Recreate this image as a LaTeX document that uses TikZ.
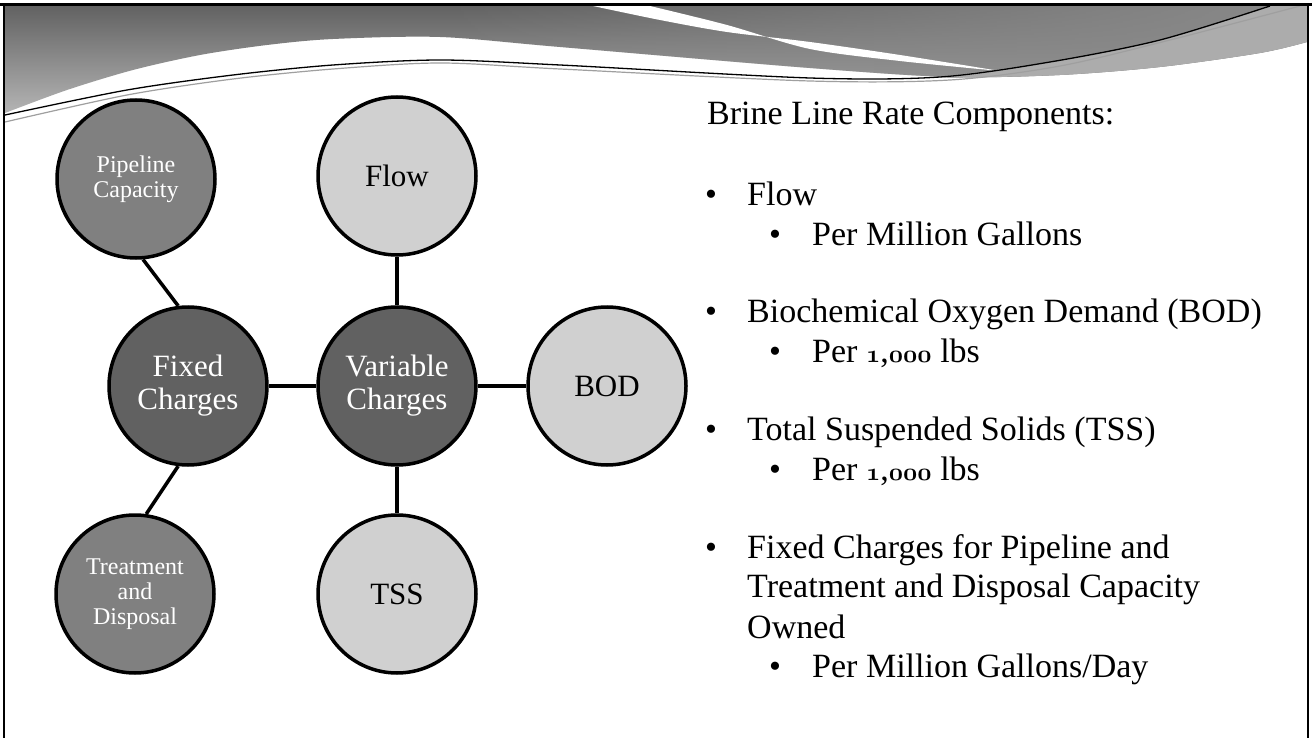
\documentclass[tikz,border=0pt]{standalone}
\usepackage{fontspec}
\setmainfont{Liberation Serif}
\usepackage{tikz}
\usetikzlibrary{fadings}
\definecolor{cdark}{HTML}{616161}
\definecolor{cmid}{HTML}{808080}
\definecolor{clight}{HTML}{D0D0D0}
\definecolor{hdtop}{HTML}{626262}
\definecolor{hdbot}{HTML}{B4B4B4}
\definecolor{hdright}{HTML}{8A8A8A}
\newcommand{\osn}[1]{{\usefont{OML}{cmm}{b}{it}#1}}
\tikzset{
  bubble/.style={circle, draw=black, line width=3.5pt, minimum size=158pt, inner sep=0pt, align=center},
  darkc/.style={bubble, fill=cdark, text=white, font=\fontsize{31}{33}\selectfont},
  midc/.style={bubble, fill=cmid, text=white, font=\fontsize{24}{25}\selectfont},
  lightc/.style={bubble, fill=clight, text=black, font=\fontsize{31}{33}\selectfont},
  link/.style={line width=3.5pt, draw=black},
  item/.style={anchor=base west, inner sep=0pt, font=\fontsize{34}{40}\selectfont},
  dot/.style={anchor=base, inner sep=0pt, font=\fontsize{34}{40}\selectfont}
}
\begin{document}
\begin{tikzpicture}[x=1pt,y=-1pt]
\useasboundingbox (0,0) rectangle (1312,738);
\fill[white] (0,0) rectangle (1312,738);
% header band
\def\hdpath{(5,6) -- (1307,6) -- (1307,42) -- plot[smooth] coordinates {(1307,42) (1260,53) (1160,67) (1060,75) (950,77) (810,68) (560,47) (440,37) (333,39) (267,45) (200,55) (133,70) (67,90) (5,113)} -- cycle}
\shade[top color=hdtop, bottom color=hdbot] \hdpath;
\fill[hdright, path fading=west] (440,6) -- (1307,6) -- (1307,42) -- plot[smooth] coordinates {(1307,42) (1260,53) (1160,67) (1060,75) (950,77) (810,68) (560,47) (440,37)} -- cycle;
% white diagonal stripe
\fill[white] (593,6) -- (650,6) -- plot[smooth] coordinates {(650,6) (727,25) (810,49) (900,61) (1000,71)} -- plot[smooth] coordinates {(1000,71) (900,55) (810,42) (727,32) (660,20) (593,6)} -- cycle;
% lighter band under the right-hand lines
\fill[gray!65] plot[smooth] coordinates {(940,77) (1050,62) (1160,40) (1270,6)} -- (1307,6) -- (1307,42) -- plot[smooth] coordinates {(1307,42) (1260,53) (1160,67) (1060,75) (950,78)} -- cycle;
% swoosh lines
\draw[gray!75, line width=1.2pt] plot[smooth] coordinates {(5,122) (127,95) (233,79) (333,69) (440,63) (560,69) (810,81) (950,80) (1060,66) (1170,40) (1300,6)};
\draw[black, line width=1.3pt] plot[smooth] coordinates {(5,115) (127,90) (233,75) (333,65) (440,60) (560,65) (810,78) (940,77) (1050,62) (1160,40) (1270,6)};
% frame
\draw[line width=3pt] (0,4.5) -- (1312,4.5);
\draw[line width=2pt] (4,4) -- (4,738);
\draw[line width=2pt] (1308,4) -- (1308,738);
% circles
\node[midc] (pipe) at (136,179) {Pipeline\\Capacity};
\node[darkc] (fixed) at (188,386) {Fixed\\Charges};
\node[midc] (treat) at (135,594) {Treatment\\and\\Disposal};
\node[lightc] (flow) at (397,176) {Flow};
\node[darkc] (var) at (397,386) {Variable\\Charges};
\node[lightc] (tss) at (397,594) {TSS};
\node[lightc] (bod) at (607,386) {BOD};
% connectors
\draw[link] (pipe.-85) -- (fixed.97);
\draw[link] (fixed.-97) -- (treat.82);
\draw[link] (fixed) -- (var);
\draw[link] (var) -- (flow);
\draw[link] (var) -- (bod);
\draw[link] (var) -- (tss);
% text list
\node[item] (title) at (707,125) {Brine Line Rate Components:};
\node[dot] (d1) at (711,206) {\textbullet};
\node[item] (t1) at (747,206) {Flow};
\node[dot] (d1a) at (775,245) {\textbullet};
\node[item] (t1a) at (812,245) {Per Million Gallons};
\node[dot] (d2) at (711,322) {\textbullet};
\node[item] (t2) at (747,322) {Biochemical Oxygen Demand (BOD)};
\node[dot] (d2a) at (775,362) {\textbullet};
\node[item] (t2a) at (812,362) {Per \osn{1},\osn{000} lbs};
\node[dot] (d3) at (711,440) {\textbullet};
\node[item] (t3) at (747,440) {Total Suspended Solids (TSS)};
\node[dot] (d3a) at (775,480) {\textbullet};
\node[item] (t3a) at (812,480) {Per \osn{1},\osn{000} lbs};
\node[dot] (d4) at (711,558) {\textbullet};
\node[item] (t4) at (747,558) {Fixed Charges for Pipeline and};
\node[item] (t4b) at (747,597) {Treatment and Disposal Capacity};
\node[item] (t4c) at (747,638) {Owned};
\node[dot] (d4a) at (775,677) {\textbullet};
\node[item] (t4a) at (812,677) {Per Million Gallons/Day};
\end{tikzpicture}
\end{document}
